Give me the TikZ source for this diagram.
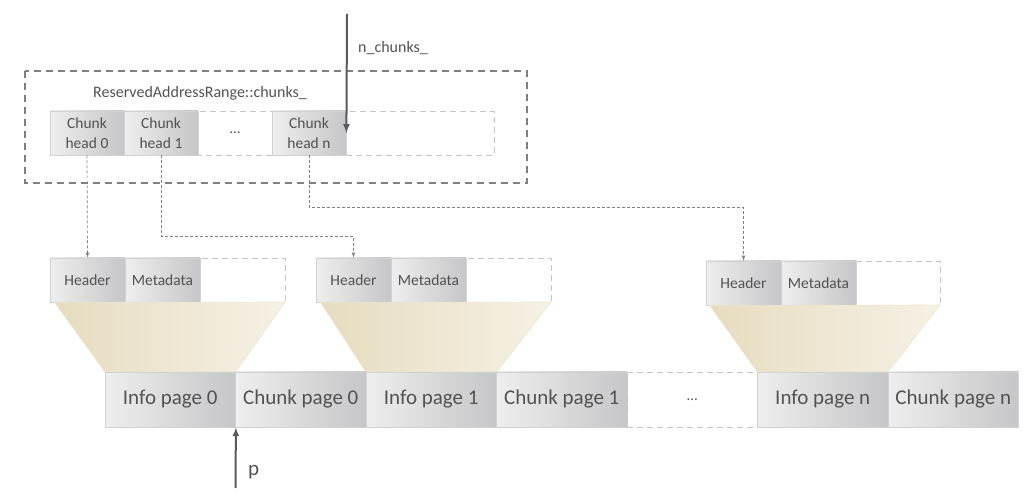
\documentclass[tikz,border=0pt]{standalone}
\usepackage{fontspec}
\setmainfont{Carlito}
\usetikzlibrary{arrows}
\definecolor{txt}{HTML}{525252}
\definecolor{boxlo}{HTML}{EEEEEE}
\definecolor{boxhi}{HTML}{C6C6C8}
\definecolor{edge}{HTML}{D2D2D2}
\definecolor{slotline}{HTML}{C4C4C4}
\definecolor{outerline}{HTML}{7F7F7F}
\definecolor{linkline}{HTML}{808080}
\definecolor{ptrline}{HTML}{5A5A5E}
\definecolor{funlo}{HTML}{E6DCBF}
\definecolor{funhi}{HTML}{F5F1E5}
\definecolor{funedge}{HTML}{EDE5CF}
\tikzstyle{cell} = [rectangle, draw=edge, line width=0.8pt, left color=boxlo, right color=boxhi, minimum width=74pt, minimum height=44pt, inner sep=0pt, text=txt, align=center, font=\fontsize{15.5}{19.5}\selectfont]
\tikzstyle{field} = [cell, minimum width=75pt]
\tikzstyle{page} = [cell, minimum width=130.5pt, minimum height=55pt, font=\fontsize{21}{25}\selectfont]
\tikzstyle{gap} = [rectangle, minimum width=74pt, minimum height=44pt, inner sep=0pt, text=txt, font=\fontsize{15}{19}\selectfont]
\tikzstyle{pagegap} = [gap, draw=slotline, line width=0.8pt, dash pattern=on 6pt off 4pt, minimum width=130.5pt, minimum height=55pt]
\tikzstyle{slot} = [draw=slotline, line width=0.8pt, dash pattern=on 6pt off 4pt]
\tikzstyle{outer} = [draw=outerline, line width=1.2pt, dash pattern=on 7pt off 5pt]
\tikzstyle{funnel} = [left color=funlo, right color=funhi, draw=funedge, line width=0.6pt]
\tikzstyle{label} = [text=txt, inner sep=0pt, font=\fontsize{16}{19}\selectfont]
\tikzstyle{arrow} = [line width=2pt, draw=ptrline, ->, >=latex]
\tikzstyle{link} = [line width=0.7pt, draw=linkline, dash pattern=on 3pt off 2pt, ->, >=latex]

\begin{document}
\begin{tikzpicture}[x=1pt, y=-1pt]
            \useasboundingbox (0,0) rectangle (1028,502);
            % chunk heads
            \draw [outer] (25,71) rectangle (527,183);
            \node [label] at (200,93) (title) {ReservedAddressRange::chunks\_};
            \draw [slot] (50,111) rectangle (494,155);
            \node [cell] at (87,133) (head0) {Chunk\\head 0};
            \node [cell] at (161,133) (head1) {Chunk\\head 1};
            \node [gap] at (235,133) (headdots) {...};
            \node [cell] at (309,133) (headn) {Chunk\\head n};
            \coordinate (ntop) at (347,14);
            \node [label, anchor=west] at (358,48) (nlabel) {n\_chunks\_};
            \draw [arrow] (ntop) -- (headn.east);
            % chunk headers
            \draw [slot] (50,258) rectangle (285,302);
            \node [field] at (87.5,280) (hdr0) {Header};
            \node [field] at (162.5,280) (meta0) {Metadata};
            \draw [slot] (316,258) rectangle (551,302);
            \node [field] at (353.5,280) (hdr1) {Header};
            \node [field] at (428.5,280) (meta1) {Metadata};
            \draw [slot] (706,261) rectangle (940,305);
            \node [field] at (743.5,283) (hdrn) {Header};
            \node [field] at (818.5,283) (metan) {Metadata};
            % pages
            \node [page] at (170.25,399.5) (info0) {Info page 0};
            \node [page] at (300.75,399.5) (chunk0) {Chunk page 0};
            \node [page] at (431.25,399.5) (info1) {Info page 1};
            \node [page] at (561.75,399.5) (chunk1) {Chunk page 1};
            \node [pagegap] at (692.25,399.5) (pagedots) {...};
            \node [page] at (822.75,399.5) (infon) {Info page n};
            \node [page] at (953.25,399.5) (chunkn) {Chunk page n};
            \shadedraw [funnel] ([xshift=5pt]hdr0.south west) -- (285,302) -- (info0.north east) -- (info0.north west) -- cycle;
            \shadedraw [funnel] ([xshift=5pt]hdr1.south west) -- (551,302) -- (info1.north east) -- (info1.north west) -- cycle;
            \shadedraw [funnel] ([xshift=4pt]hdrn.south west) -- (940,305) -- (infon.north east) -- (infon.north west) -- cycle;
            % links
            \draw [link] (head0.south) -- (hdr0.north);
            \draw [link] (head1.south) -- ++(0,81) -| (hdr1.north);
            \draw [link] (headn.south) -- ++(0,52) -| (hdrn.north);
            \coordinate (pbot) at (235.5,488);
            \node [text=txt, inner sep=0pt, font=\fontsize{21}{24}\selectfont, anchor=west] at (248,472) (plabel) {p};
            \draw [arrow] (pbot) -- (info0.south east);
            \end{tikzpicture}
\end{document}
